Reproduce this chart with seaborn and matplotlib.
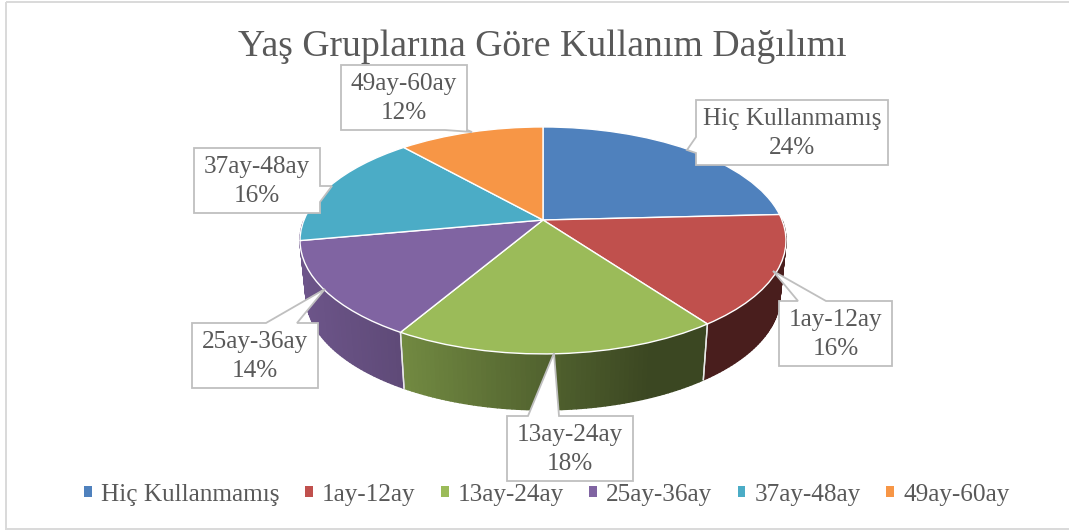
"""Yas gruplarina gore kullanim dagilimi, 3D gorunumlu pasta grafik."""

import matplotlib
matplotlib.use("Agg")
import matplotlib.pyplot as plt
from matplotlib.patches import Polygon, Rectangle
from matplotlib.transforms import Transform
import numpy as np
import seaborn as sns

age_groups = ["Hiç Kullanmamış", "1ay-12ay", "13ay-24ay", "25ay-36ay", "37ay-48ay", "49ay-60ay"]
shares = [24.2, 15.8, 18.4, 13.7, 16.4, 11.5]
slice_colors = ["#4f81bd", "#c0504d", "#9bbb59", "#8064a2", "#4bacc6", "#f79646"]
chart_title = "Yaş Gruplarına Göre Kullanım Dağılımı"

# label box (x0, y0, x1, y1) and callout pointer (base a, tip, base b), in pixels
label_boxes = [
    (696, 100, 888, 165),
    (779, 301, 892, 366),
    (507, 416, 633, 481),
    (192, 323, 318, 388),
    (194, 148, 320, 213),
    (341, 65, 467, 130),
]
label_pointers = [
    ((696, 137), (687, 150), (696, 153)),
    ((826, 301), (773, 271), (798, 301)),
    ((559, 416), (554, 353), (528, 416)),
    ((297, 323), (325, 289), (266, 323)),
    ((320, 186), (332, 186), (320, 202)),
    ((467, 130), (472, 132), (445, 130)),
]

# pie projection, pixels
CX, CY = 543, 220
RX, RY = 239, 109.8
TILT = 0.18
DEPTH = 56
BOTTOM_SCALE = 0.975


def project(x, y, depth=0.0, scale=1.0):
    den = 1 + TILT * y
    return CX + scale * RX * x / den, CY + depth - RY * y / den


class PieProjection(Transform):
    """Maps the unit circle of ax.pie to the tilted top face."""
    input_dims = 2
    output_dims = 2

    def transform_non_affine(self, values):
        values = np.asarray(values)
        px, py = project(values[:, 0], values[:, 1])
        return np.column_stack([px, py])


sns.set_theme(style="white")
plt.rcParams["font.family"] = ["Liberation Serif", "DejaVu Serif"]
text_color = "#595959"
box_color = "#bfbfbf"

fig, ax = plt.subplots(figsize=(10.69, 5.31), dpi=100)
fig.subplots_adjust(0, 0, 1, 1)

wedges, _ = ax.pie(shares, colors=sns.color_palette(slice_colors), startangle=90,
                   counterclock=False, wedgeprops={"edgecolor": "white", "linewidth": 1.0})
ax.set_aspect("auto")
ax.set_xlim(0, 1069)
ax.set_ylim(531, 0)
ax.set_axis_off()

# top face
for w in wedges:
    w.set_transform(PieProjection() + ax.transData)
    w.set_zorder(3)

# side wall, thin strips shaded by horizontal position
side_left = np.array(matplotlib.colors.to_rgb(slice_colors[3]))
side_right = np.array(matplotlib.colors.to_rgb(slice_colors[1]))
for w, color in zip(wedges, slice_colors):
    rgb = np.array(matplotlib.colors.to_rgb(color))
    angles = np.arange(w.theta1, w.theta2 + 1.0, 1.0)
    angles[-1] = w.theta2
    for a0, a1 in zip(angles[:-1], angles[1:]):
        seg = np.radians([a0, a1])
        x, y = np.cos(seg), np.sin(seg)
        if y.mean() > 0:
            continue
        tx, ty = project(x, y)
        bx, by = project(x, y, DEPTH, BOTTOM_SCALE)
        shade = np.interp(tx.mean(), [300, 400, 550, 650, 790], [0.85, 0.74, 0.52, 0.38, 0.38])
        # back of the pie peeks out at the sides, keep it the neighbour colour
        base = rgb
        if y.mean() > -TILT - 0.05:
            base = side_left if x.mean() < 0 else side_right
        ax.add_patch(Polygon(np.column_stack([np.r_[tx, bx[::-1]], np.r_[ty, by[::-1]]]),
                             facecolor=base * shade, edgecolor=base * shade, linewidth=1.0, zorder=1))
    # white seam at the wedge edge
    for a in (w.theta1, w.theta2):
        x, y = np.cos(np.radians(a)), np.sin(np.radians(a))
        if y > -0.25:
            continue
        ax.plot([project(x, y)[0], project(x, y, DEPTH, BOTTOM_SCALE)[0]],
                [project(x, y)[1], project(x, y, DEPTH, BOTTOM_SCALE)[1]],
                color="#e8e8e8", lw=1.0, zorder=2)

# callout labels
for group, share, box, pointer in zip(age_groups, shares, label_boxes, label_pointers):
    x0, y0, x1, y1 = box
    base_a, tip, base_b = pointer
    if base_a[0] == x0:  # left side
        outline = [(x0, y0), (x1, y0), (x1, y1), (x0, y1), base_b, tip, base_a]
    elif base_a[0] == x1:  # right side, or the bottom right corner
        outline = [(x0, y0), (x1, y0), base_a, tip, base_b, (x1, y1), (x0, y1)]
        if base_a[1] == y1:
            outline = [(x0, y0), (x1, y0), (x1, y1), tip, base_b, (x0, y1)]
    else:  # top side
        outline = [(x0, y0), (base_b[0], y0), tip, (base_a[0], y0), (x1, y0), (x1, y1), (x0, y1)]
    ax.add_patch(Polygon(outline, closed=True, facecolor="white", edgecolor=box_color,
                         linewidth=1.3, zorder=4, joinstyle="miter"))
    ax.text((x0 + x1) / 2, (y0 + y1) / 2 + 1, f"{group}\n{share:.0f}%", ha="center", va="center",
            fontsize=18.2, color=text_color, linespacing=1.4, zorder=5)

ax.text(542, 47, chart_title, ha="center", va="center", fontsize=27.2, color=text_color)

leg = ax.legend(wedges, age_groups, ncols=6, loc="center", bbox_to_anchor=(547 / 1069, 1 - 495 / 531),
                frameon=False, fontsize=18.2, handlelength=0.3, handleheight=0.3,
                handletextpad=0.37, columnspacing=1.0, labelcolor=text_color)
for handle in leg.legend_handles:
    handle.set_linewidth(0)

# chart frame, runs off the right edge
ax.add_patch(Rectangle((6, 2), 1075, 527, fill=False, edgecolor="#d9d9d9", linewidth=1.4, zorder=0))

fig.savefig("out.png", dpi=100)
